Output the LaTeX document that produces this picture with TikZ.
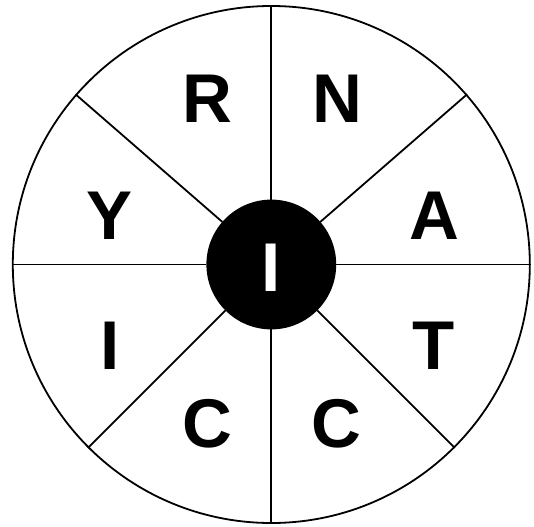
\documentclass[tikz,border=0pt]{standalone}
\usepackage{fontspec}
\setmainfont{Liberation Sans}
\usepackage{tikz}

\tikzset{
	letter/.style={font=\fontsize{69}{69}\selectfont\bfseries, inner sep=0pt}
}

\begin{document}
\begin{tikzpicture}[x=1pt, y=-1pt, line width=1.8pt]
	\useasboundingbox (0,0) rectangle (534,526);
	% wheel and hub
	\node[draw, circle, minimum size=517pt, inner sep=0pt] (wheel) at (271.3,264.5) {};
	\node[draw, circle, fill=black, minimum size=128pt, inner sep=0pt] (hub) at (271.3,264.5) {};
	\node[letter, text=white] (centre) at (271.5,267.5) {I};
	
	% spokes
	\foreach \a in {0,41,90,139,180,225,270,315}
		\draw (hub.\a) -- (wheel.\a);
	
	% letters round the wheel
	\node[letter] (r) at (207.5,99) {R};
	\node[letter] (n) at (337,99) {N};
	\node[letter] (a) at (434,216) {A};
	\node[letter] (t) at (434,346) {T};
	\node[letter] (c1) at (336.5,424) {C};
	\node[letter] (c2) at (207,424) {C};
	\node[letter] (i) at (110,346) {I};
	\node[letter] (y) at (110,216) {Y};
\end{tikzpicture}
\end{document}
